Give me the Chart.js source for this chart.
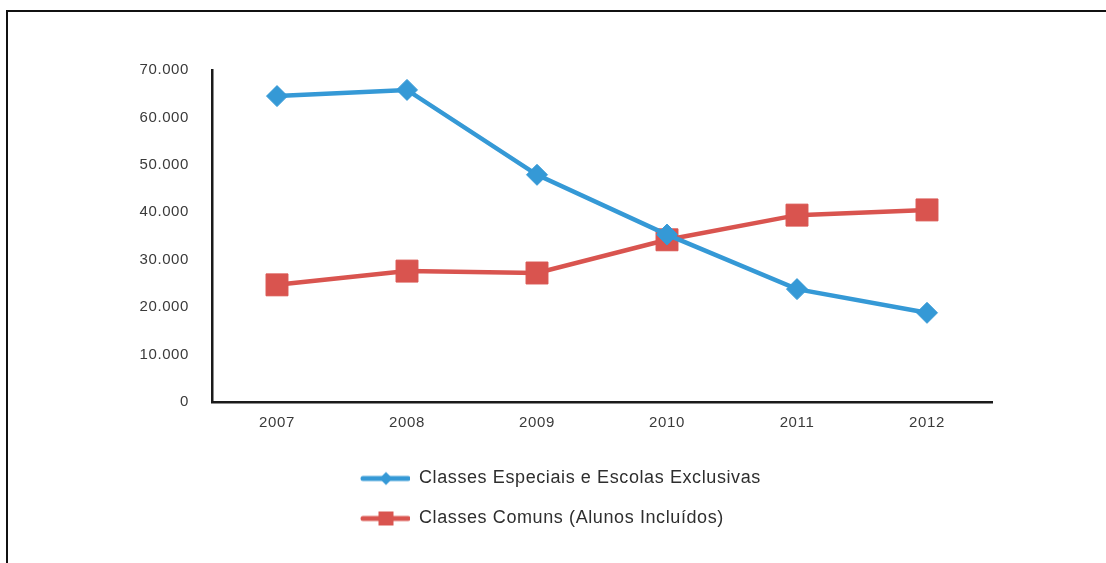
<!DOCTYPE html>
<html><head><meta charset="utf-8">
<script src="https://cdn.jsdelivr.net/npm/chart.js@4.4.1/dist/chart.umd.min.js"></script>
<style>
html,body{margin:0;padding:0;background:#fff;overflow:hidden}
#wrap{position:relative;width:1106px;height:563px}
#frame{position:absolute;left:6px;top:10px;width:1200px;height:700px;border-left:2px solid #111;border-top:2px solid #111;pointer-events:none}
canvas{position:absolute;left:0;top:0}
</style></head><body>
<div id="wrap"><canvas id="c" width="1106" height="563"></canvas><div id="frame"></div></div>
<script>
// ---- data ----
const years = ['2007', '2008', '2009', '2010', '2011', '2012'];
const especiais = [64500, 65800, 47900, 35300, 23800, 18800];
const comuns = [24700, 27600, 27200, 34200, 39400, 40500];
const seriesLabels = ['Classes Especiais e Escolas Exclusivas', 'Classes Comuns (Alunos Incluídos)'];
const yTicks = [0, 10000, 20000, 30000, 40000, 50000, 60000, 70000];

const BLUE = '#3599d6';
const RED = '#d9544f';
const FONT = '"Liberation Sans", Arial, sans-serif';

function fmt(v) {
  return v === 0 ? '0' : String(v).replace(/\B(?=(\d{3})+(?!\d))/g, '.');
}

function makeSample(color, kind) {
  const W = 176, H = 24;
  const c = document.createElement('canvas');
  c.width = W; c.height = H;
  const g = c.getContext('2d');
  g.strokeStyle = color; g.lineWidth = 5; g.lineCap = 'round';
  g.beginPath(); g.moveTo(129, H / 2); g.lineTo(174, H / 2); g.stroke();
  g.fillStyle = color;
  const cx = 152, cy = H / 2;
  g.beginPath();
  if (kind === 'diamond') {
    const r = 6.5;
    g.moveTo(cx, cy - r); g.lineTo(cx + r, cy); g.lineTo(cx, cy + r); g.lineTo(cx - r, cy);
  } else {
    g.rect(cx - 7.5, cy - 7, 15, 14);
  }
  g.closePath(); g.fill();
  return c;
}
const samples = [makeSample(BLUE, 'diamond'), makeSample(RED, 'square')];

const spacingPlugin = {
  id: 'spacing',
  beforeUpdate(chart) { chart.ctx.letterSpacing = '0.6px'; },
  beforeDraw(chart) { chart.ctx.letterSpacing = '0.6px'; }
};

new Chart(document.getElementById('c'), {
  type: 'line',
  data: {
    labels: years,
    datasets: [
      {
        label: seriesLabels[0], data: especiais,
        borderColor: BLUE, backgroundColor: BLUE, borderWidth: 4.5,
        pointStyle: 'rectRot', pointRadius: 10.5, pointBorderWidth: 1,
        pointBackgroundColor: BLUE, pointBorderColor: BLUE, tension: 0, clip: false
      },
      {
        label: seriesLabels[1], data: comuns,
        borderColor: RED, backgroundColor: RED, borderWidth: 4.5,
        pointStyle: 'rect', pointRadius: 15.5, pointBorderWidth: 1,
        pointBackgroundColor: RED, pointBorderColor: RED, tension: 0, clip: false
      }
    ]
  },
  options: {
    responsive: false, animation: false, devicePixelRatio: 1,
    layout: { padding: { top: 70, left: 0, right: 114, bottom: 25.5 } },
    scales: {
      x: {
        offset: true,
        grid: { display: false, drawTicks: false },
        border: { display: true, color: '#1a1a1a', width: 2.5 },
        ticks: { color: '#3a3a3a', padding: 12, font: { family: FONT, size: 15 } },
        afterFit(s) { s.height = 45.5; }
      },
      y: {
        min: 0, max: 70000,
        afterBuildTicks(s) { s.ticks = yTicks.map(v => ({ value: v })); },
        grid: { display: false, drawTicks: false },
        border: { display: true, color: '#1a1a1a', width: 2.5 },
        ticks: { color: '#3a3a3a', padding: 23, callback: v => fmt(v), font: { family: FONT, size: 15 } },
        afterFit(s) { s.width = 212; }
      }
    },
    plugins: {
      tooltip: { enabled: false },
      legend: {
        position: 'bottom', align: 'start', fullSize: false,
        labels: {
          usePointStyle: true, pointStyleWidth: 176, padding: 22, color: '#2e2e2e',
          font: { family: FONT, size: 18 },
          generateLabels(chart) {
            const items = Chart.defaults.plugins.legend.labels.generateLabels(chart);
            items.forEach((it, i) => { it.pointStyle = samples[i]; });
            return items;
          }
        }
      }
    }
  },
  plugins: [spacingPlugin]
});
</script>
</body></html>
